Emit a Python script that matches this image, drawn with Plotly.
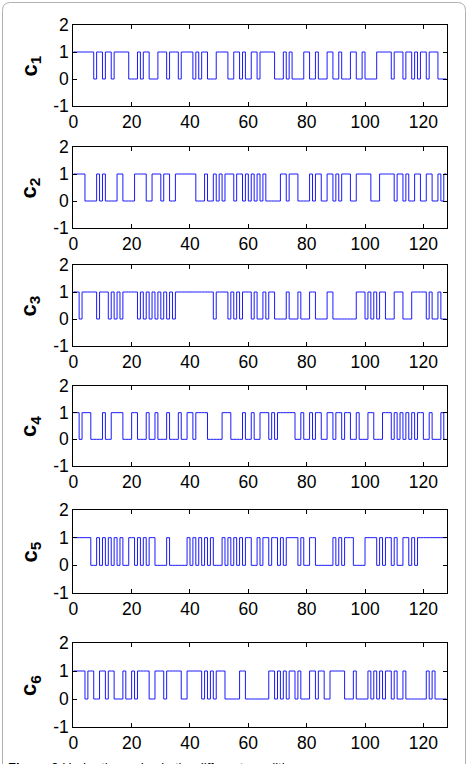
import plotly.graph_objects as go

N = 128
x_ticks = [0, 20, 40, 60, 80, 100, 120]
y_ticks = [-1, 0, 1, 2]
y_tick_text = ["-1", "0", "1", "2"]
labels = ["1", "2", "3", "4", "5", "6"]

# each code: starting level and the sample indices where the level toggles
c1_start = 1
c1_switch = [7, 8, 10, 11, 13, 14, 19, 22, 23, 24, 26, 29, 32, 33, 36, 37, 41, 42, 43, 44, 46, 49,
             53, 55, 57, 58, 59, 61, 63, 64, 69, 72, 73, 74, 75, 79, 81, 83, 84, 87, 89, 91, 92,
             95, 97, 99, 100, 104, 109, 110, 113, 114, 116, 117, 118, 119, 121, 122, 125]
c2_start = 1
c2_switch = [4, 8, 9, 10, 11, 15, 17, 21, 25, 27, 30, 31, 33, 35, 42, 45, 46, 48, 49, 50, 51, 52,
             55, 56, 58, 59, 60, 61, 62, 63, 64, 65, 66, 71, 73, 74, 77, 81, 82, 83, 85, 87, 89,
             90, 91, 92, 95, 97, 102, 105, 110, 111, 113, 114, 115, 117, 119, 121, 123, 125, 126, 127]
c3_start = 1
c3_switch = [2, 3, 8, 9, 12, 13, 14, 15, 16, 17, 22, 23, 24, 25, 26, 27, 28, 29, 30, 31, 32, 33,
             34, 35, 48, 49, 53, 54, 55, 56, 57, 58, 61, 62, 63, 65, 66, 67, 69, 73, 74, 77, 78,
             81, 83, 87, 89, 97, 100, 101, 102, 103, 104, 105, 107, 110, 113, 116, 121, 122, 123,
             125, 126]
c4_start = 1
c4_switch = [2, 3, 6, 10, 11, 13, 17, 20, 22, 25, 26, 28, 29, 32, 33, 36, 37, 39, 41, 42, 46, 51,
             54, 58, 59, 61, 62, 64, 67, 68, 69, 70, 76, 78, 79, 81, 82, 83, 85, 87, 89, 90, 92,
             93, 95, 97, 98, 101, 103, 106, 109, 110, 111, 112, 113, 114, 115, 116, 117, 118, 120,
             122, 123, 126, 127]
c5_start = 1
c5_switch = [6, 8, 9, 10, 11, 12, 13, 14, 15, 16, 17, 19, 21, 22, 23, 24, 25, 26, 28, 32, 33, 39,
             40, 41, 42, 43, 44, 45, 46, 47, 48, 51, 52, 53, 54, 55, 56, 57, 58, 59, 61, 63, 64,
             65, 67, 68, 70, 71, 72, 73, 77, 78, 79, 81, 83, 89, 90, 91, 92, 93, 96, 100, 104,
             105, 106, 107, 109, 110, 111, 113, 115, 116, 117, 118]
c6_start = 1
c6_switch = [4, 5, 7, 9, 11, 12, 14, 17, 18, 20, 21, 22, 26, 28, 31, 32, 37, 39, 44, 45, 46, 47,
             48, 49, 52, 57, 59, 67, 69, 70, 71, 72, 73, 74, 76, 77, 78, 81, 83, 84, 86, 88, 93,
             96, 97, 101, 102, 103, 104, 105, 106, 107, 109, 110, 111, 113, 114, 121, 122, 123, 124]

codes = [(c1_start, c1_switch), (c2_start, c2_switch), (c3_start, c3_switch),
         (c4_start, c4_switch), (c5_start, c5_switch), (c6_start, c6_switch)]


def expand(start, switches):
    s = set(switches)
    v = start
    vals = []
    for t in range(N):
        if t in s:
            v = 1 - v
        vals.append(v)
    vals.append(vals[-1])
    return vals


W, H = 470, 764
# plot boxes in pixels (top, bottom)
boxes = [(25, 106), (147, 228), (265, 346), (386, 466), (510, 593), (643, 727)]
x0px, x1px = 73.3, 446.7

fig = go.Figure()
font = dict(family="Liberation Sans, Arial, sans-serif", size=17.5, color="black")

for i, ((st, sw), (top, bot)) in enumerate(zip(codes, boxes)):
    k = "" if i == 0 else str(i + 1)
    xs = list(range(N + 1))
    ys = expand(st, sw)
    fig.add_trace(go.Scatter(x=xs, y=ys, mode="lines", line=dict(color="#1a1aff", width=1, shape="hv"),
                             xaxis="x" + k, yaxis="y" + k, showlegend=False, hoverinfo="skip"))
    fig.layout["xaxis" + k] = dict(domain=[x0px / W, x1px / W], anchor="y" + k, range=[0, 128],
                                   tickvals=x_ticks, ticks="inside", ticklen=4, tickcolor="black",
                                   showline=True, linecolor="black", linewidth=1, mirror="ticks",
                                   showgrid=False, zeroline=False, tickfont=font, automargin=False)
    fig.layout["yaxis" + k] = dict(domain=[1 - bot / H, 1 - top / H], anchor="x" + k, range=[-1, 2],
                                   tickvals=y_ticks, ticktext=y_tick_text, ticks="inside", ticklen=4,
                                   tickcolor="black", showline=True, linecolor="black", linewidth=1,
                                   mirror="ticks", showgrid=False, zeroline=False, tickfont=font,
                                   automargin=False)
    fig.add_annotation(x=30 / W, y=1 - (top + bot) / 2 / H, xref="paper", yref="paper",
                       text="<b>c<sub>" + labels[i] + "</sub></b>", textangle=-90, showarrow=False,
                       font=dict(family="Liberation Sans, Arial, sans-serif", size=22, color="black"),
                       xanchor="center", yanchor="middle")

# caption, cut at the bottom edge
fig.add_annotation(x=6 / W, y=1 - 758 / H, xref="paper", yref="paper", xanchor="left", yanchor="top",
                   text="<b>Figure 3</b> Under the codes in the different conditions.", showarrow=False,
                   font=dict(family="Liberation Sans, Arial, sans-serif", size=13, color="black"))

# rounded frame
r = 8
L, R, T, B = 2.5, 465.5, 2.5, 790


def px(x):
    return x / W


def py(y):
    return 1 - y / H


path = (f"M {px(L + r)},{py(T)} L {px(R - r)},{py(T)} Q {px(R)},{py(T)} {px(R)},{py(T + r)} "
        f"L {px(R)},{py(B)} L {px(L)},{py(B)} L {px(L)},{py(T + r)} Q {px(L)},{py(T)} {px(L + r)},{py(T)} Z")
fig.add_shape(type="path", path=path, xref="paper", yref="paper",
              line=dict(color="#b0b0b0", width=1), layer="below")

fig.update_layout(width=W, height=H, autosize=False,
                  margin=dict(l=0, r=0, t=0, b=0, pad=0, autoexpand=False),
                  paper_bgcolor="white", plot_bgcolor="white")

fig.write_html("out.html",
               post_script="document.body.style.margin='0';document.body.style.overflow='hidden';")
